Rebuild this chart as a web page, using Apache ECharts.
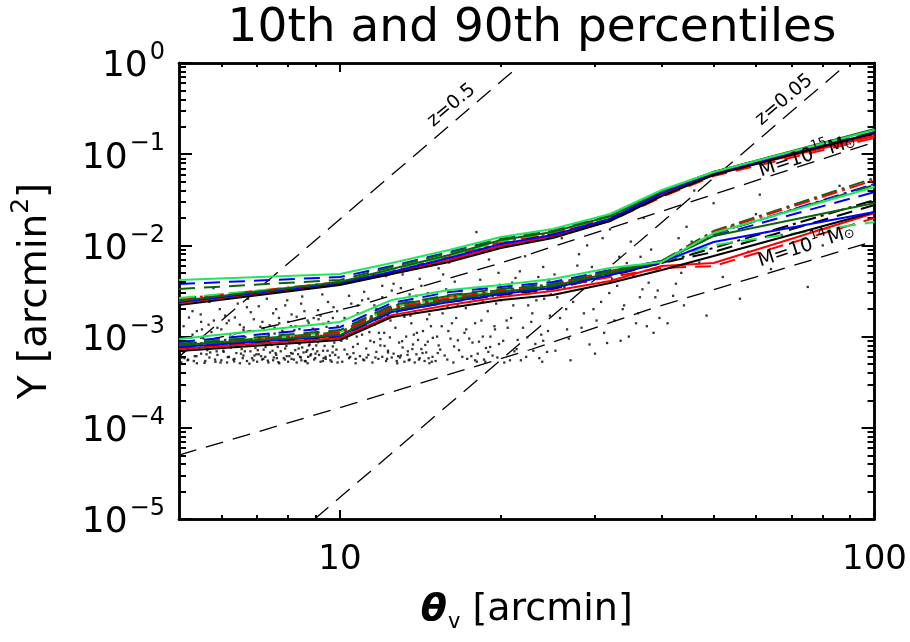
<!DOCTYPE html>
<html><head><meta charset="utf-8">
<script src="https://cdn.jsdelivr.net/npm/echarts@6/dist/echarts.min.js"></script>
<style>html,body{margin:0;padding:0;background:#fff}#c{width:910px;height:642px}</style>
</head><body><div id="c"></div>
<script>
// ---------- data ----------
const chartTitle = '10th and 90th percentiles';
const xTickMajor = [10, 100];
const xTickMinor = [6, 7, 8, 9, 20, 30, 40, 50, 60, 70, 80, 90];
const yTickMajor = [1e-5, 1e-4, 1e-3, 1e-2, 1e-1, 1];
const yMantissas = [2, 3, 4, 5, 6, 7, 8, 9];

const thetaKnots = [5, 10, 12.5, 16, 20, 25, 32, 40, 50, 100];

// 10th percentile (lower band)
const loGreenSolid   = [0.000941,0.00145,0.00252,0.00324,0.00368,0.00428,0.00565,0.00658,0.01367,0.04369];
const loBlueDashed   = [0.000873,0.00127,0.00234,0.00308,0.00350,0.00397,0.00537,0.00675,0.01268,0.03851];
const loDkGreenDashed= [0.000830,0.00118,0.00222,0.00286,0.00333,0.00377,0.00524,0.00675,0.01334,0.04595];
const loRedDashed    = [0.000809,0.00115,0.00211,0.00272,0.00308,0.00350,0.00450,0.00565,0.00594,0.01997];
const loRedDashDot   = [0.000789,0.00110,0.00206,0.00265,0.00316,0.00368,0.00511,0.00658,0.01402,0.05213];
const loDkGreenDashDot=[0.000809,0.00112,0.00217,0.00279,0.00324,0.00377,0.00524,0.00675,0.01438,0.05483];
const loBlueDashDot  = [0.000789,0.00110,0.00206,0.00258,0.00308,0.00359,0.00498,0.00658,0.01334,0.04712];
const loBlackDashDot = [0.000769,0.00104,0.00196,0.00252,0.00301,0.00350,0.00474,0.00641,0.00937,0.03147];
const loDkGreenSolid = [0.000809,0.00104,0.00196,0.00252,0.00308,0.00359,0.00498,0.00675,0.01268,0.02917];
const loBlueSolid    = [0.000769,0.00102,0.00186,0.00239,0.00293,0.00341,0.00474,0.00658,0.01090,0.02324];
const loGreenDashed  = [0.000851,0.00112,0.00211,0.00265,0.00316,0.00368,0.00511,0.00658,0.01010,0.01805];
const loRedSolid     = [0.000731,0.000965,0.00172,0.00222,0.00272,0.00316,0.00407,0.00594,0.00641,0.02266];
const loBlackSolid   = [0.000695,0.000918,0.00164,0.00206,0.00252,0.00286,0.00387,0.00537,0.00765,0.02324];
const loBlackDashed  = [0.000750,0.000990,0.00186,0.00239,0.00286,0.00333,0.00462,0.00641,0.00847,0.02773];

// 90th percentile (upper band)
const hiGreenSolid   = [0.00418,0.00486,0.00641,0.00891,0.01236,0.01513,0.02210,0.04050,0.06379,0.1842];
const hiBlueDashed   = [0.00377,0.00450,0.00594,0.00847,0.01175,0.01438,0.02154,0.03949,0.06379,0.1796];
const hiDkGreenDashed= [0.00333,0.00418,0.00580,0.00825,0.01175,0.01438,0.02100,0.03949,0.06379,0.1842];
const hiRedDashDot   = [0.00258,0.00397,0.00524,0.00746,0.01090,0.01367,0.01997,0.03755,0.06220,0.1665];
const hiGreenDashed  = [0.00265,0.00387,0.00537,0.00765,0.01118,0.01402,0.02048,0.03949,0.06379,0.1796];
const hiBlueSolid    = [0.00239,0.00387,0.00511,0.00727,0.01036,0.01300,0.01947,0.03755,0.06220,0.1708];
const hiDkGreenSolid = [0.00246,0.00397,0.00551,0.00785,0.01146,0.01402,0.02100,0.03949,0.06379,0.1889];
const hiRedSolid     = [0.00234,0.00377,0.00498,0.00692,0.00985,0.01268,0.01899,0.03570,0.06065,0.1583];
const hiBlackSolid   = [0.00222,0.00368,0.00486,0.00658,0.00937,0.01206,0.01851,0.03481,0.05914,0.1708];
const hiRedDashed    = [0.00246,0.00377,0.00486,0.00675,0.00960,0.01236,0.01851,0.03394,0.05767,0.1505];
const hiBlackDashed  = [0.00252,0.00387,0.00511,0.00727,0.01036,0.01334,0.01947,0.03661,0.06065,0.1665];

// reference curves (black dashed)
const zHalfLine   = [[5, 6.0e-4], [21.5, 0.9]];
const zTwentieth  = [[8.97, 1e-5], [88, 0.93]];
const mass15Line  = [[5, 7.9e-4], [7.62, 1.34e-3], [10.9, 2.22e-3], [22.4, 7.85e-3], [47.1, 3.23e-2], [100, 0.136]];
const mass14Line  = [[5, 5.03e-5], [10.4, 1.78e-4], [22.6, 7.13e-4], [39.1, 2.11e-3], [100, 1.12e-2]];

// individual objects (scatter), part 1
const scatterPoints = [
[5.05,5.2e-4],[5.1,6.8e-4],[5.15,8.9e-4],[5.2,5.6e-4],[5.25,7.4e-4],[5.3,1.05e-3],[5.35,6.1e-4],[5.4,5.1e-4],[5.45,8.2e-4],[5.5,6.5e-4],
[5.55,9.6e-4],[5.6,5.4e-4],[5.65,7.1e-4],[5.7,5.9e-4],[5.75,1.12e-3],[5.8,7.8e-4],[5.85,5.3e-4],[5.9,6.3e-4],[5.95,8.6e-4],[6.0,5.5e-4],
[6.05,7.0e-4],[6.1,9.2e-4],[6.15,5.2e-4],[6.2,6.0e-4],[6.25,7.6e-4],[6.3,1.0e-3],[6.35,5.7e-4],[6.4,6.6e-4],[6.45,8.4e-4],[6.5,5.1e-4],
[6.55,7.3e-4],[6.6,6.2e-4],[6.65,9.9e-4],[6.7,5.4e-4],[6.75,8.0e-4],[6.8,6.9e-4],[6.85,5.8e-4],[6.9,1.15e-3],[6.95,7.5e-4],[7.0,5.3e-4],
[7.05,6.4e-4],[7.1,8.8e-4],[7.15,5.6e-4],[7.2,7.2e-4],[7.25,6.0e-4],[7.3,9.4e-4],[7.35,5.2e-4],[7.4,6.7e-4],[7.45,8.1e-4],[7.5,5.5e-4],
[7.55,1.08e-3],[7.6,6.3e-4],[7.65,7.7e-4],[7.7,5.1e-4],[7.75,6.9e-4],[7.8,9.0e-4],[7.85,5.8e-4],[7.9,7.4e-4],[7.95,6.1e-4],[8.0,5.3e-4],
[8.05,8.5e-4],[8.1,6.6e-4],[8.15,1.02e-3],[8.2,5.6e-4],[8.25,7.1e-4],[8.3,5.2e-4],[8.35,6.4e-4],[8.4,8.3e-4],[8.45,5.9e-4],[8.5,7.6e-4],
[8.55,9.7e-4],[8.6,5.4e-4],[8.65,6.8e-4],[8.7,5.1e-4],[8.75,8.0e-4],[8.8,6.2e-4],[8.85,1.1e-3],[8.9,7.3e-4],[8.95,5.6e-4],[9.0,6.5e-4],
[9.1,8.7e-4],[9.2,5.3e-4],[9.3,7.0e-4],[9.4,6.0e-4],[9.5,9.3e-4],[9.6,5.5e-4],[9.7,7.8e-4],[9.8,6.3e-4],[9.9,5.2e-4],[5.12,5.8e-4],
[5.72,6.7e-4],[6.32,5.6e-4],[6.92,6.2e-4],[7.52,5.9e-4],[8.12,5.7e-4],[8.72,6.0e-4],[9.32,5.8e-4],[9.85,7.2e-4],
[5.1,1.3e-3],[5.3,1.9e-3],[5.5,1.45e-3],[5.7,2.4e-3],[5.9,1.25e-3],[6.1,1.7e-3],[6.3,2.9e-3],[6.5,1.35e-3],[6.7,2.1e-3],[6.9,1.55e-3],
[7.1,1.28e-3],[7.3,2.6e-3],[7.5,1.8e-3],[7.7,1.4e-3],[7.9,2.2e-3],[8.1,1.3e-3],[8.3,1.65e-3],[8.5,2.75e-3],[8.7,1.5e-3],[8.9,1.22e-3],
[9.1,1.95e-3],[9.3,1.38e-3],[9.5,2.4e-3],[9.7,1.6e-3],[9.9,1.3e-3],[5.4,1.15e-3],[6.0,1.2e-3],[6.6,1.18e-3],[7.2,1.24e-3],[7.8,1.16e-3],
[8.4,1.21e-3],[9.0,1.19e-3],[9.6,1.14e-3],[5.8,3.4e-3],[7.4,3.1e-3],[8.8,3.6e-3],[6.2,1.5e-3],[7.6,2.0e-3],[9.2,1.7e-3],[8.0,1.45e-3],
[10.1,5.3e-4],[10.2,7.2e-4],[10.3,9.5e-4],[10.4,5.8e-4],[10.5,1.2e-3],[10.6,6.6e-4],[10.7,5.1e-4],[10.8,8.3e-4],[10.9,6.1e-4],[11.0,1.05e-3],
[11.1,5.5e-4],[11.2,7.4e-4],[11.3,6.3e-4],[11.4,9.0e-4],[11.5,5.2e-4],[11.6,1.35e-3],[11.7,6.8e-4],[11.8,5.7e-4],[11.9,8.0e-4],[12.0,6.0e-4],
[12.1,1.1e-3],[12.2,5.4e-4],[12.3,7.0e-4],[12.4,9.8e-4],[12.5,5.9e-4],[12.6,6.5e-4],[12.7,1.25e-3],[12.8,5.1e-4],[12.9,8.6e-4],[13.0,6.2e-4],
[13.1,7.6e-4],[13.2,5.3e-4],[13.3,1.0e-3],[13.4,6.9e-4],[13.5,5.6e-4],[13.6,1.4e-3],[13.7,8.2e-4],[13.8,5.2e-4],[13.9,6.4e-4],[14.0,9.2e-4],
[14.1,5.8e-4],[14.2,7.3e-4],[14.3,1.15e-3],[14.4,5.4e-4],[14.5,6.7e-4],[14.6,8.8e-4],[14.7,5.1e-4],[14.8,1.3e-3],[14.9,6.0e-4],[10.45,6.0e-4],
[11.05,5.6e-4],[11.65,5.9e-4],[12.25,5.7e-4],[12.85,6.1e-4],[13.45,5.5e-4],[14.05,5.6e-4],[14.65,5.8e-4],[10.75,1.0e-3],[11.35,1.12e-3],[13.75,1.05e-3],
[10.2,1.6e-3],[10.5,2.3e-3],[10.8,1.8e-3],[11.1,3.1e-3],[11.4,1.55e-3],[11.7,2.0e-3],[12.0,2.7e-3],[12.3,1.7e-3],[12.6,3.8e-3],[12.9,2.2e-3],
[13.2,1.65e-3],[13.5,2.9e-3],[13.8,1.9e-3],[14.1,4.3e-3],[14.4,2.5e-3],[14.7,1.75e-3],[10.6,4.0e-3],[11.9,1.6e-3],[13.0,3.4e-3],[14.0,2.1e-3],
[11.3,2.6e-3],[12.8,1.85e-3],[14.6,3.0e-3],[10.9,1.5e-3],[12.2,4.6e-3],
[15.1,5.4e-4],[15.3,8.0e-4],[15.5,1.3e-3],[15.7,6.2e-4],[15.9,2.1e-3],[16.1,9.5e-4],[16.3,5.2e-4],[16.5,1.6e-3],[16.7,7.1e-4],[16.9,3.3e-3],
[17.1,1.1e-3],[17.3,5.7e-4],[17.5,2.4e-3],[17.7,8.6e-4],[17.9,1.4e-3],[18.1,6.5e-4],[18.3,4.2e-3],[18.5,1.0e-3],[18.7,5.3e-4],[18.9,1.9e-3],
[19.1,7.7e-4],[19.3,2.8e-3],[19.5,1.2e-3],[19.7,5.9e-4],[19.9,3.7e-3],[20.2,9.0e-4],[20.5,1.5e-3],[20.8,5.5e-4],[21.1,2.2e-3],[21.4,7.3e-4],
[21.7,5.2e-3],[22.0,1.25e-3],[22.3,6.0e-4],[22.6,3.0e-3],[22.9,1.8e-3],[23.2,8.3e-4],[23.5,4.5e-3],[23.8,1.05e-3],[24.1,2.6e-3],[24.4,6.8e-4],
[24.7,1.7e-3],[16.0,6.5e-3],[17.4,8.0e-3],[19.0,7.0e-3],[20.6,1.1e-2],[22.2,7.6e-3],[18.0,1.4e-2],[23.0,1.3e-2],[15.6,4.8e-3],[21.0,3.9e-3],
[16.8,2.9e-3],[24.0,5.8e-3],[15.2,1.0e-3],[19.6,2.3e-3],[18.6,5.6e-4],
[25.3,7.0e-4],[25.8,1.6e-3],[26.3,3.5e-3],[26.8,9.5e-4],[27.3,2.4e-3],[27.8,6.0e-3],[28.3,1.25e-3],[28.8,4.0e-3],[29.3,8.2e-4],[29.8,2.0e-3],
[30.5,5.0e-3],[31.2,1.1e-3],[31.9,3.0e-3],[32.6,1.5e-3],[33.3,7.5e-3],[34.0,2.2e-3],[34.7,1.0e-3],[35.4,4.6e-3],[36.1,1.8e-3],[36.8,3.3e-3],
[37.5,1.3e-3],[38.2,9.0e-3],[38.9,2.7e-3],[39.6,1.6e-3],[26.0,1.2e-2],[29.0,1.0e-2],[32.0,1.5e-2],[35.0,1.1e-2],[37.0,2.0e-2],[27.0,5.5e-4],
[30.0,6.5e-4],[33.5,9.0e-4],[36.5,7.5e-3],[39.0,5.5e-3],
[41,1.4e-3],[42.5,3.8e-3],[44,2.2e-3],[45.5,1.1e-2],[47,6.5e-3],[48.5,1.7e-3],[50,2.9e-2],[52,4.5e-3],[54,1.6e-2],[56,2.6e-3],
[58,8.5e-3],[61,3.6e-2],[64,5.5e-3],[67,1.3e-2],[71,2.5e-2],[75,3.5e-3],[80,1.0e-2],[86,4.5e-2],[92,2.0e-2],[43,1.2e-2],
[46,4.0e-2],[60,2.2e-2]
];

// individual objects (scatter), part 2
const scatterPoints2 = [
[5.03,6.2e-4],[5.58,5.15e-4],[6.12,8.1e-4],[7.33,5.45e-4],[8.91,9.1e-4],[5.27,9.8e-4],[6.77,5.05e-4],[7.94,7.9e-4],[9.41,5.7e-4],[8.22,1.18e-3],
[6.41,7.7e-4],[5.84,5.6e-4],[9.07,6.9e-4],[7.08,9.9e-4],[8.63,5.35e-4],[5.46,7.3e-4],[6.98,6.4e-4],[9.76,8.6e-4],[7.67,5.25e-4],[6.23,1.06e-3],
[8.37,7.4e-4],[5.19,5.5e-4],[9.58,6.2e-4],[7.41,8.3e-4],[6.58,5.8e-4],[8.04,6.1e-4],[5.66,8.5e-4],[9.23,1.02e-3],[7.19,5.7e-4],[6.06,6.8e-4],
[8.78,8.2e-4],[5.39,6.1e-4],[7.84,1.12e-3],[9.94,5.9e-4],[6.49,9.3e-4],[5.92,7.5e-4],[8.47,5.5e-4],[7.02,7.1e-4],[9.36,7.9e-4],[6.86,8.7e-4],
[5.11,7.9e-4],[8.16,6.5e-4],[7.58,6.6e-4],[9.65,5.3e-4],[6.34,5.35e-4],[5.77,9.2e-4],[8.99,5.8e-4],[7.26,7.7e-4],[6.64,6.9e-4],[9.14,6.3e-4],
[5.52,1.2e-3],[8.55,6.7e-4],[7.12,6.1e-4],[6.17,5.95e-4],[9.48,7.0e-4],[5.98,5.2e-4],[8.29,8.9e-4],[7.72,8.4e-4],[6.72,7.9e-4],[9.81,9.6e-4],
[5.33,5.4e-4],[6.89,5.5e-4],[8.69,7.1e-4],[7.48,7.0e-4],[5.63,6.4e-4],[9.29,5.4e-4],[6.27,8.8e-4],[8.08,9.5e-4],[7.89,5.6e-4],[5.07,5.9e-4],
[6.53,6.5e-4],[9.69,6.7e-4],[8.42,6.0e-4],[7.36,1.04e-3],[5.88,6.9e-4],[6.95,9.5e-4],[8.83,6.4e-4],[7.62,5.8e-4],[9.03,8.0e-4],[5.24,8.4e-4],
[5.22,1.62e-3],[6.44,2.3e-3],[7.16,1.45e-3],[8.58,1.9e-3],[9.44,1.28e-3],[5.68,1.35e-3],[6.81,1.85e-3],[7.97,2.5e-3],[9.12,1.55e-3],[8.26,1.3e-3],
[5.96,2.0e-3],[7.39,1.33e-3],[6.14,1.4e-3],[9.73,2.1e-3],[8.74,1.42e-3],[5.36,2.7e-3],[7.69,1.6e-3],[6.61,1.26e-3],[9.27,2.9e-3],[8.12,1.75e-3],
[5.81,1.5e-3],[7.05,2.15e-3],[6.36,1.62e-3],[9.52,1.45e-3],[8.46,2.3e-3],[7.55,1.25e-3],[5.49,1.75e-3],[6.73,2.6e-3],[8.93,1.6e-3],[9.88,1.9e-3],
[10.32,6.4e-4],[11.58,8.7e-4],[12.77,5.4e-4],[13.93,1.1e-3],[15.24,6.6e-4],[16.62,9.1e-4],[18.04,5.3e-4],[19.45,1.3e-3],[21.2,6.9e-4],[23.6,5.8e-4],
[10.87,1.35e-3],[12.12,7.9e-4],[13.38,6.3e-4],[14.56,1.55e-3],[15.88,5.6e-4],[17.23,1.2e-3],[18.76,7.5e-4],[20.3,5.2e-4],[22.4,9.8e-4],[24.5,1.15e-3],
[10.06,9.0e-4],[11.22,5.9e-4],[12.43,1.5e-3],[13.66,7.3e-4],[14.92,9.7e-4],[16.35,7.8e-4],[17.61,6.1e-4],[19.12,1.0e-3],[20.9,1.6e-3],[23.0,7.0e-4],
[10.58,7.7e-4],[11.83,1.1e-3],[13.07,8.9e-4],[14.27,6.6e-4],[15.56,1.8e-3],[16.94,6.0e-4],[18.39,1.5e-3],[19.84,8.3e-4],[21.8,5.5e-4],[24.0,9.0e-4],
[11.45,1.65e-3],[12.95,5.9e-4],[14.44,8.1e-4],[15.95,1.15e-3],[17.45,9.5e-4],[18.95,6.8e-4],[20.6,1.25e-3],[22.8,1.45e-3],[10.7,5.7e-4],[13.55,1.7e-3],
[12.3,6.7e-4],[14.85,5.3e-4],[16.2,1.4e-3],[17.9,5.5e-4],[19.3,6.2e-4],[21.5,9.2e-4],[23.9,5.3e-4],[11.9,9.4e-4],[15.4,7.2e-4],[18.2,8.8e-4],
[10.4,2.8e-3],[11.6,2.2e-3],[12.5,3.2e-3],[13.3,2.4e-3],[14.2,3.6e-3],[15.1,2.6e-3],[16.4,4.0e-3],[17.2,2.05e-3],[18.8,3.3e-3],[20.0,2.5e-3],
[21.3,4.4e-3],[22.5,2.2e-3],[23.7,3.4e-3],[24.8,2.9e-3],[11.0,2.5e-3],[13.9,2.8e-3],[15.8,3.3e-3],[17.8,2.7e-3],[19.8,5.0e-3],[22.0,3.1e-3],
[12.0,3.6e-3],[14.6,2.3e-3],[16.6,2.2e-3],[18.5,2.4e-3],[20.7,3.5e-3],[23.3,2.5e-3],[24.6,4.2e-3],[10.8,2.2e-3],[13.1,4.8e-3],[15.3,5.6e-3],
[25.5,2.7e-3],[26.6,1.2e-3],[27.5,3.9e-3],[28.6,1.8e-3],[29.6,5.8e-3],[30.8,2.4e-3],[31.6,8.5e-4],[32.3,4.3e-3],[33.8,2.0e-3],[34.4,6.4e-3],
[35.8,1.4e-3],[36.4,2.7e-3],[37.8,3.9e-3],[38.6,1.1e-3],[39.3,3.2e-3],[40.5,7.0e-3],[42,2.8e-3],[43.5,5.0e-3],[44.5,1.6e-2],[28.0,8.0e-3],
[31.0,1.2e-2],[25.2,4.8e-3],[33.0,3.6e-3],[26.5,2.0e-3],[30.2,1.5e-3]
];

// ---------- styling ----------
const FONT = "'DejaVu Sans', sans-serif";
const C = { black:'#000000', red:'#ff0000', blue:'#0000ff', green:'#1ee85a', dkgreen:'#0b640b' };
const DASH = [16, 9];
const DASHDOT = [16, 5, 3, 5];

const yTickMinor = [];
yTickMajor.slice(0, -1).forEach(d => yMantissas.forEach(m => yTickMinor.push(+(m * d).toPrecision(3))));

function band(arr, color, type, name) {
  return {
    name: name, type: 'line', xAxisIndex: 0, yAxisIndex: 0,
    data: thetaKnots.map((t, i) => [t, arr[i]]),
    showSymbol: false, symbol: 'none', silent: true, z: 3,
    lineStyle: { color: color, width: 2, type: type }
  };
}
function guide(pts, name) {
  return {
    name: name, type: 'line', xAxisIndex: 0, yAxisIndex: 0, data: pts,
    showSymbol: false, symbol: 'none', silent: true, z: 2,
    lineStyle: { color: '#000', width: 1.3, type: [18, 10] }
  };
}
function dots(pts, name) {
  return {
    name: name, type: 'scatter', xAxisIndex: 0, yAxisIndex: 0,
    data: pts, symbol: 'rect', symbolSize: 2.3, silent: true, z: 1,
    itemStyle: { color: '#000' }
  };
}

const supMinus = e => (e < 0 ? '\u2212' + (-e) : '' + e);
const axisLineStyle = { show: true, lineStyle: { color: '#000', width: 2.5 } };

function xAx(pos, ticks, len, labels) {
  return {
    type: 'log', logBase: 10, min: 5, max: 100, position: pos,
    axisLine: axisLineStyle,
    axisTick: { show: true, inside: true, length: len, customValues: ticks, lineStyle: { color: '#000', width: 2 } },
    axisLabel: labels ? {
      show: true, customValues: xTickMajor, margin: 24,
      color: '#000', fontFamily: FONT, fontSize: 34,
      formatter: v => String(Math.round(v))
    } : { show: false },
    splitLine: { show: false }, minorTick: { show: false }
  };
}
function yAx(pos, ticks, len, labels) {
  const ax = {
    type: 'log', logBase: 10, min: 1e-5, max: 1, position: pos,
    axisLine: axisLineStyle,
    axisTick: { show: true, inside: true, length: len, customValues: ticks, lineStyle: { color: '#000', width: 2 } },
    axisLabel: { show: false },
    splitLine: { show: false }, minorTick: { show: false }
  };
  if (labels) {
    ax.axisLabel = {
      show: true, customValues: yTickMajor, margin: 14,
      formatter: v => '{b|10}{s|' + supMinus(Math.round(Math.log10(v))) + '}',
      rich: {
        b: { fontFamily: FONT, fontSize: 36, color: '#000', lineHeight: 44, verticalAlign: 'bottom' },
        s: { fontFamily: FONT, fontSize: 24, color: '#000', lineHeight: 44, verticalAlign: 'top', padding: [0, 0, 0, 2] }
      }
    };
    ax.name = '{a|Y [arcmin}{s|2}{a|]}';
    ax.nameLocation = 'middle';
    ax.nameGap = 124;
    ax.nameRotate = 90;
    ax.nameTextStyle = {
      rich: {
        a: { fontFamily: FONT, fontSize: 39, color: '#000', lineHeight: 46, verticalAlign: 'bottom' },
        s: { fontFamily: FONT, fontSize: 25, color: '#000', lineHeight: 46, verticalAlign: 'top' }
      }
    };
  }
  return ax;
}

const xAxes = [
  xAx('bottom', xTickMajor, 9, true),
  xAx('bottom', xTickMinor, 4, false),
  xAx('top', xTickMajor, 9, false),
  xAx('top', xTickMinor, 4, false)
];
xAxes[0].name = '{t|\u03b8}{v|v}{a| [arcmin]}';
xAxes[0].nameLocation = 'middle';
xAxes[0].nameGap = 68;
xAxes[0].nameTextStyle = {
  rich: {
    t: { fontFamily: FONT, fontSize: 38, fontStyle: 'italic', fontWeight: 'bold', color: '#000', lineHeight: 46 },
    v: { fontFamily: FONT, fontSize: 21, color: '#000', lineHeight: 46, verticalAlign: 'bottom', padding: [0, 0, 0, 1] },
    a: { fontFamily: FONT, fontSize: 38, color: '#000', lineHeight: 46 }
  }
};

const yAxes = [
  yAx('left', yTickMajor, 13, true),
  yAx('left', yTickMinor, 7, false),
  yAx('right', yTickMajor, 13, false),
  yAx('right', yTickMinor, 7, false)
];

const series = [
  dots(scatterPoints, 'objects'),
  dots(scatterPoints2, 'objects (more)'),
  guide(zHalfLine, 'z=0.5'),
  guide(zTwentieth, 'z=0.05'),
  guide(mass15Line, 'M=1e15'),
  guide(mass14Line, 'M=1e14'),

  band(loBlackDashed, C.black, DASH, 'lo black dashed'),
  band(loBlackDashDot, C.black, DASHDOT, 'lo black dashdot'),
  band(loRedDashed, C.red, DASH, 'lo red dashed'),
  band(loGreenDashed, C.green, DASH, 'lo green dashed'),
  band(loBlueDashDot, C.blue, DASHDOT, 'lo blue dashdot'),
  band(loDkGreenDashDot, C.dkgreen, DASHDOT, 'lo dkgreen dashdot'),
  band(loRedDashDot, C.red, DASHDOT, 'lo red dashdot'),
  band(loBlueDashed, C.blue, DASH, 'lo blue dashed'),
  band(loDkGreenDashed, C.dkgreen, DASH, 'lo dkgreen dashed'),
  band(loRedSolid, C.red, 'solid', 'lo red solid'),
  band(loBlackSolid, C.black, 'solid', 'lo black solid'),
  band(loBlueSolid, C.blue, 'solid', 'lo blue solid'),
  band(loDkGreenSolid, C.dkgreen, 'solid', 'lo dkgreen solid'),
  band(loGreenSolid, C.green, 'solid', 'lo green solid'),

  band(hiBlackDashed, C.black, DASH, 'hi black dashed'),
  band(hiRedDashed, C.red, DASH, 'hi red dashed'),
  band(hiRedDashDot, C.red, DASHDOT, 'hi red dashdot'),
  band(hiGreenDashed, C.green, DASH, 'hi green dashed'),
  band(hiBlueDashed, C.blue, DASH, 'hi blue dashed'),
  band(hiDkGreenDashed, C.dkgreen, DASH, 'hi dkgreen dashed'),
  band(hiRedSolid, C.red, 'solid', 'hi red solid'),
  band(hiBlueSolid, C.blue, 'solid', 'hi blue solid'),
  band(hiBlackSolid, C.black, 'solid', 'hi black solid'),
  band(hiDkGreenSolid, C.dkgreen, 'solid', 'hi dkgreen solid'),
  band(hiGreenSolid, C.green, 'solid', 'hi green solid')
];

const chart = echarts.init(document.getElementById('c'), null, { renderer: 'canvas' });
chart.setOption({
  animation: false,
  backgroundColor: '#fff',
  title: {
    text: chartTitle, left: 527, top: 0, textAlign: 'center',
    textStyle: { fontFamily: FONT, fontSize: 47, fontWeight: 'normal', color: '#000' }
  },
  grid: { left: 179, right: 35, top: 63, bottom: 123, containLabel: false },
  xAxis: xAxes,
  yAxis: yAxes,
  series: series
});

// annotations along the guide curves (anchored in data coordinates)
const annotations = [
  { at: [16.06, 0.36], deg: 40, text: '{a|z=0.5}' },
  { at: [67.3, 0.413], deg: 40, text: '{a|z=0.05}' },
  { at: [74.6, 0.1005], deg: 18, text: '{a|M=10}{s|15}{a|M}{o|\u2299}' },
  { at: [74.3, 0.01036], deg: 18, text: '{a|M=10}{s|14}{a|M}{o|\u2299}' }
];
const annRich = {
  a: { fontFamily: FONT, fontSize: 19, color: '#000', lineHeight: 24, verticalAlign: 'bottom' },
  s: { fontFamily: FONT, fontSize: 13, color: '#000', lineHeight: 24, verticalAlign: 'top' },
  o: { fontFamily: FONT, fontSize: 13, color: '#000', lineHeight: 24, verticalAlign: 'bottom', padding: [0, 0, 1, 0] }
};
chart.setOption({
  graphic: annotations.map(a => {
    const p = chart.convertToPixel({ xAxisIndex: 0, yAxisIndex: 0 }, a.at);
    return {
      type: 'text', x: p[0], y: p[1], rotation: a.deg * Math.PI / 180, z: 10,
      style: { text: a.text, rich: annRich, align: 'center', verticalAlign: 'middle', fill: '#000' }
    };
  })
});
</script></body></html>
